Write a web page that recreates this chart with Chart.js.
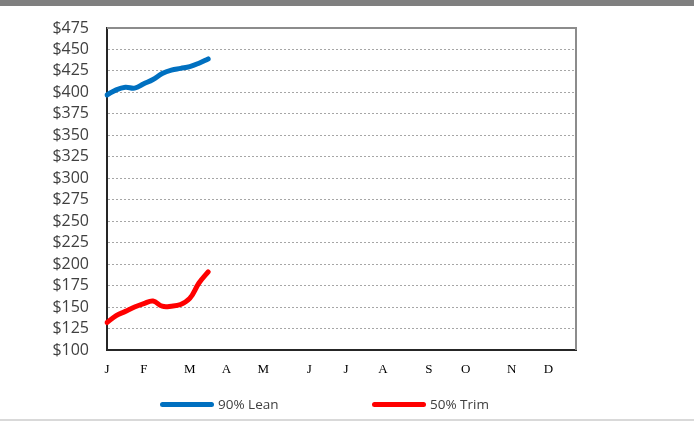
<!DOCTYPE html>
<html>
<head>
<meta charset="utf-8">
<script src="https://cdn.jsdelivr.net/npm/chart.js@4"></script>
<style>
  html, body { margin: 0; padding: 0; background: #fff; }
  #wrap { position: relative; width: 694px; height: 423px; overflow: hidden; }
  #topbar { position: absolute; left: 0; top: 0; width: 694px; height: 6px; background: #7f7f7f; }
  #bottomline { position: absolute; left: 0; top: 419px; width: 694px; height: 2px; background: #d9d9d9; }
  #chart { position: absolute; left: 0; top: 0; }
  .legend { position: absolute; top: 395px; font: 13.5px "Open Sans", sans-serif; color: #404040; display: flex; align-items: center; }
  .legend .swatch { display: inline-block; width: 54px; height: 5px; border-radius: 3px; margin-right: 4px; }
</style>
</head>
<body>
<div id="wrap">
  <div id="topbar"></div>
  <canvas id="chart" width="694" height="423"></canvas>
  <div class="legend" style="left:160px"><span class="swatch" style="background:#0070C0"></span>90% Lean</div>
  <div class="legend" style="left:372px"><span class="swatch" style="background:#FF0000"></span>50% Trim</div>
  <div id="bottomline"></div>
</div>
<script>
// === DATA ===
const weekCount = 52;
const monthLetters = ['J', 'F', 'M', 'A', 'M', 'J', 'J', 'A', 'S', 'O', 'N', 'D'];
const monthStartWeeks = [0, 4, 9, 13, 17, 22, 26, 30, 35, 39, 44, 48];
const lean90 = [397, 403, 406, 405, 410, 415, 422, 426, 428, 430, 434, 439];
const trim50 = [132, 140, 145, 150, 154, 157, 151, 151, 153, 160, 178, 191];
const yMin = 100;
const yMax = 475;
const yStep = 25;

// one label per week, month letter on the first week of each month
const weekLabels = Array.from({ length: weekCount }, (_, i) => {
  const k = monthStartWeeks.indexOf(i);
  return k >= 0 ? monthLetters[k] : '';
});

// top/right gray edges of the plot box
const frame = {
  id: 'frame',
  afterDraw(chart) {
    const { ctx, chartArea: a } = chart;
    ctx.save();
    ctx.strokeStyle = '#8c8c8c';
    ctx.lineWidth = 2;
    ctx.beginPath();
    ctx.moveTo(a.left, a.top);
    ctx.lineTo(a.right, a.top);
    ctx.lineTo(a.right, a.bottom);
    ctx.stroke();
    ctx.restore();
  }
};

new Chart(document.getElementById('chart').getContext('2d'), {
  type: 'line',
  data: {
    labels: weekLabels,
    datasets: [{
      label: '90% Lean',
      data: lean90,
      borderColor: '#0070C0',
      backgroundColor: '#0070C0',
      borderWidth: 5,
      pointRadius: 0,
      tension: 0.4,
      borderCapStyle: 'round',
      borderJoinStyle: 'round'
    }, {
      label: '50% Trim',
      data: trim50,
      borderColor: '#FF0000',
      backgroundColor: '#FF0000',
      borderWidth: 5,
      pointRadius: 0,
      tension: 0.4,
      borderCapStyle: 'round',
      borderJoinStyle: 'round'
    }]
  },
  options: {
    responsive: false,
    animation: false,
    layout: { padding: { left: 0, right: 118, top: 28, bottom: 43 } },
    plugins: {
      legend: { display: false },
      tooltip: { enabled: false }
    },
    scales: {
      x: {
        offset: false,
        grid: { display: false },
        border: { color: '#262626', width: 2 },
        ticks: {
          autoSkip: false,
          maxRotation: 0,
          padding: 4,
          color: '#000',
          font: { family: '"Liberation Serif", serif', size: 13 }
        },
        afterFit(scale) { scale.height = 30; }
      },
      y: {
        min: yMin,
        max: yMax,
        grid: { color: '#a6a6a6', lineWidth: 1, drawTicks: false },
        border: { color: '#262626', width: 2, dash: [2, 2] },
        ticks: {
          stepSize: yStep,
          autoSkip: false,
          padding: 18,
          color: '#404040',
          font: { family: '"Open Sans", sans-serif', size: 16, lineHeight: 1 },
          callback: v => '$' + v
        },
        afterFit(scale) { scale.width = 107; }
      }
    }
  },
  plugins: [frame]
});
</script>
</body>
</html>
